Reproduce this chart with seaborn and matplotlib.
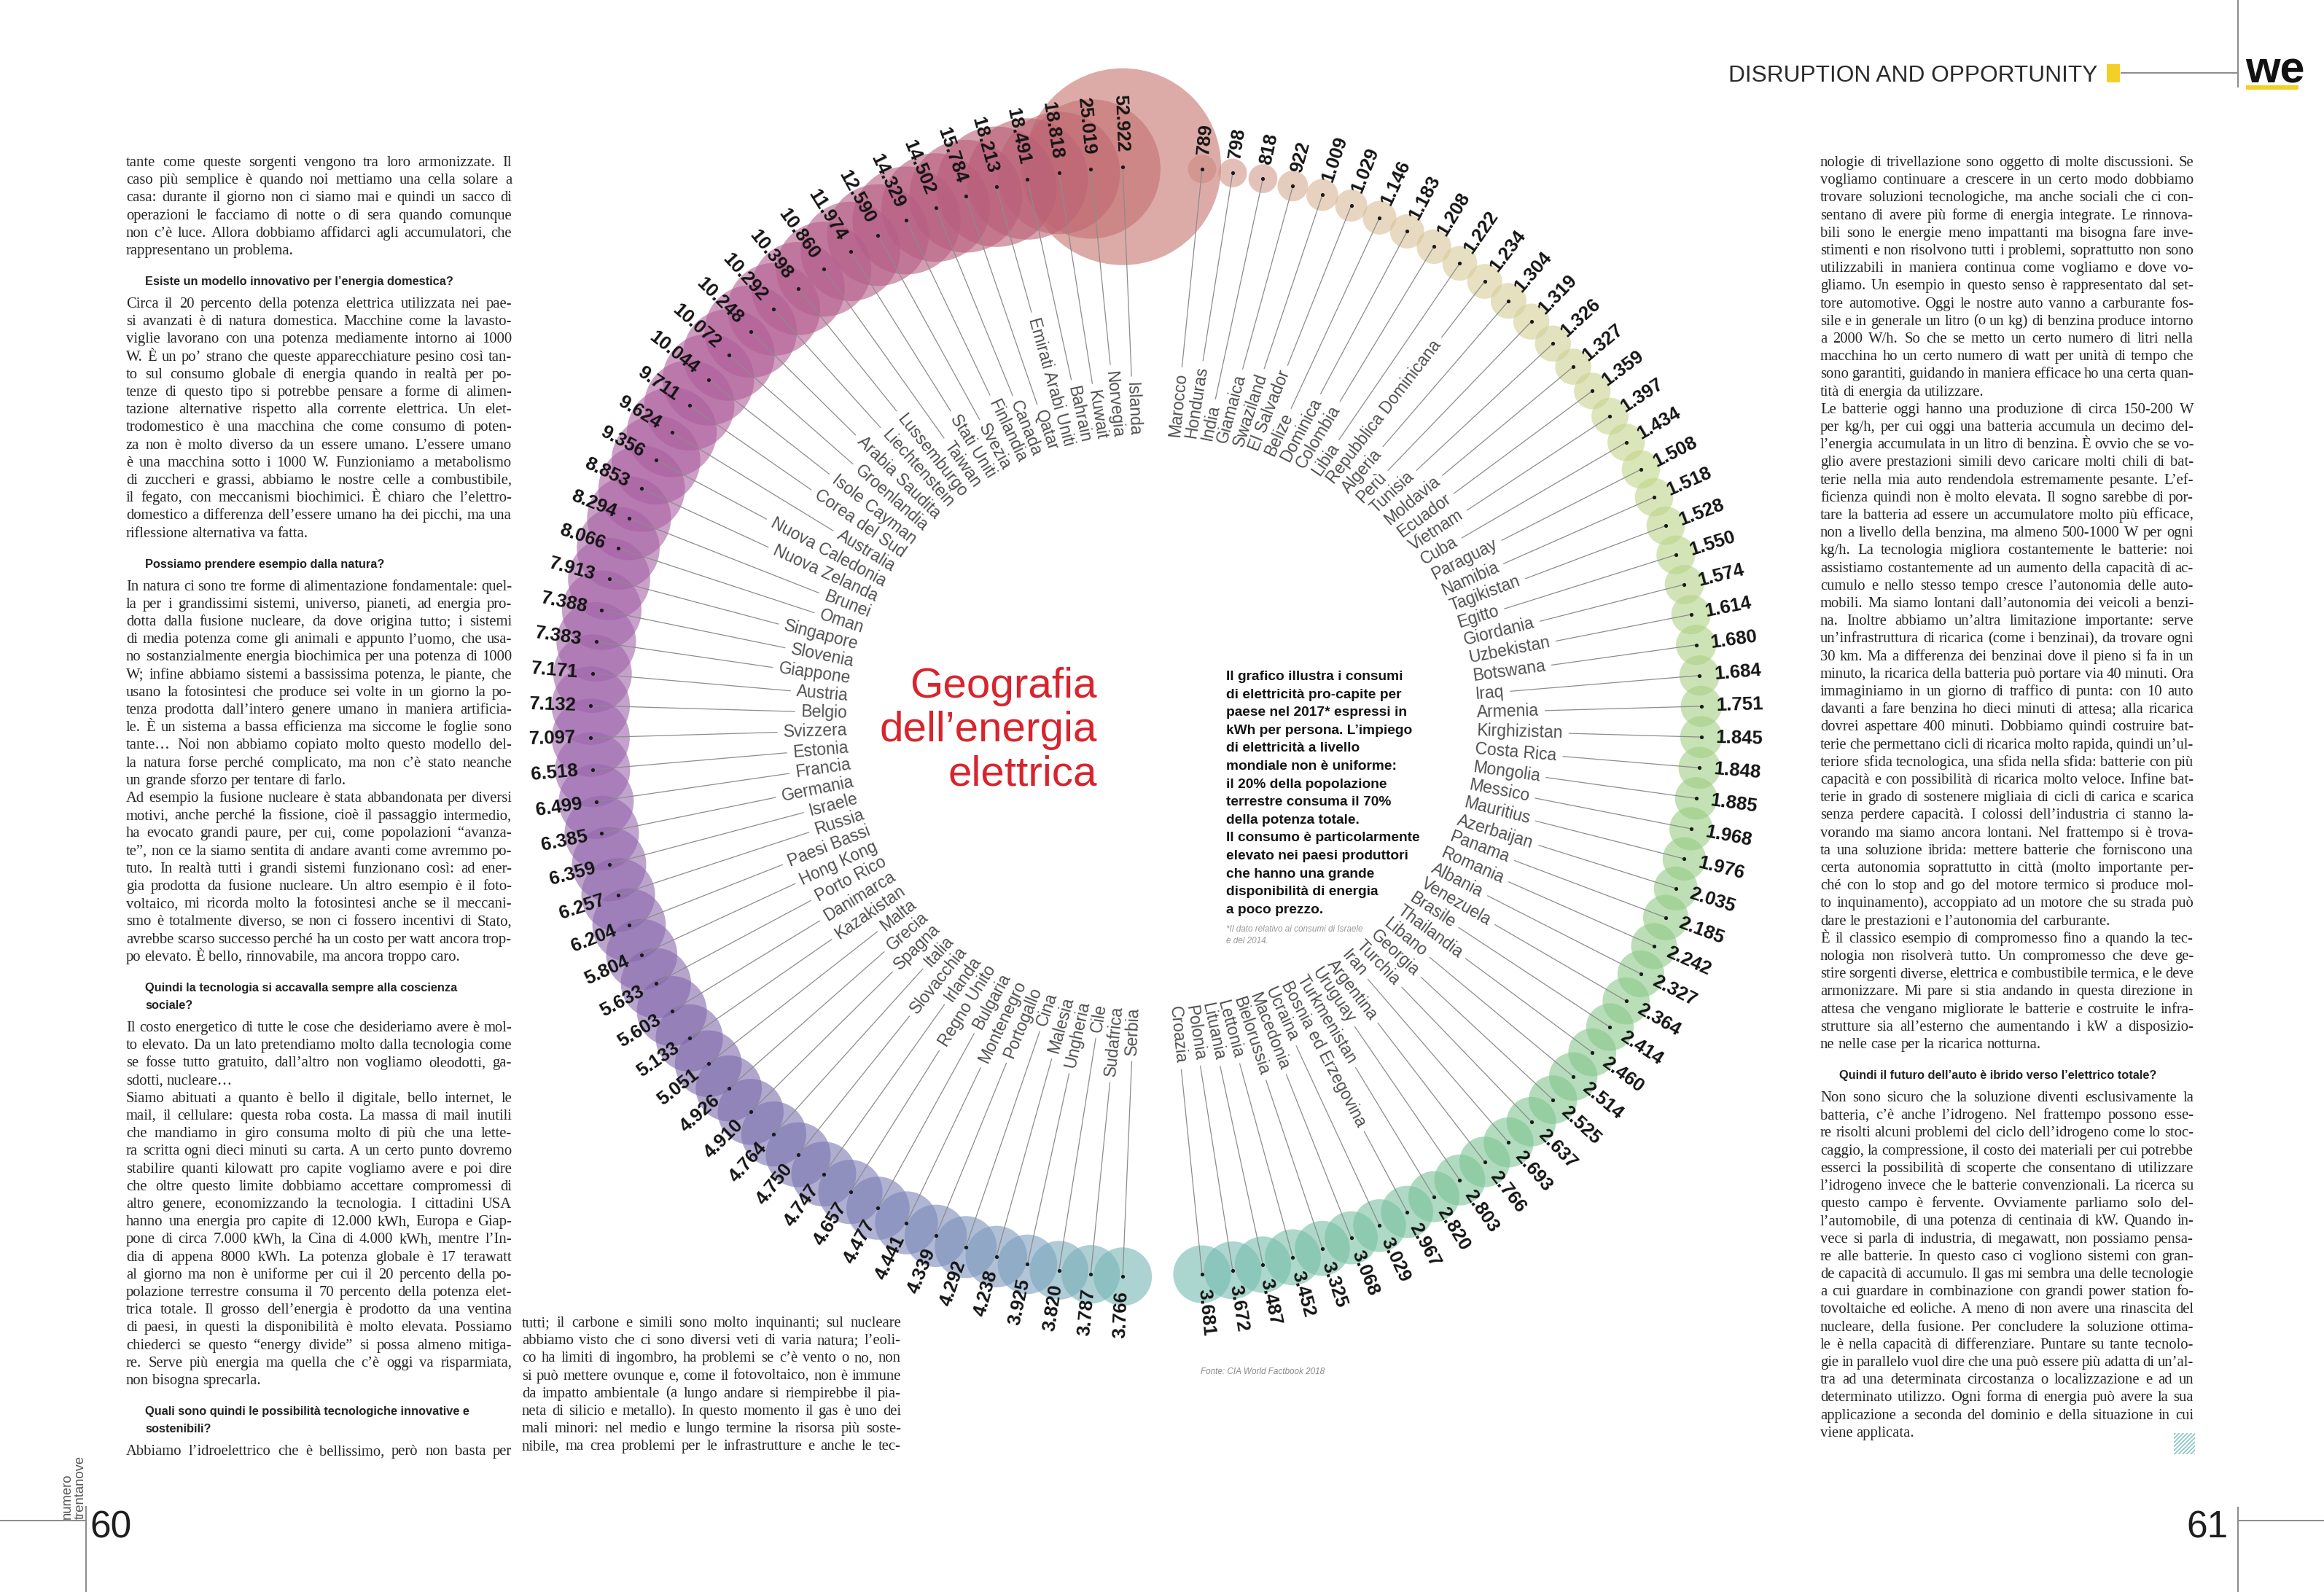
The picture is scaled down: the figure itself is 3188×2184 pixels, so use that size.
import numpy as np
import pandas as pd
import matplotlib
matplotlib.use("Agg")
import matplotlib.pyplot as plt
import seaborn as sns
from matplotlib import font_manager as fm
from matplotlib.font_manager import FontProperties
from matplotlib.colors import LinearSegmentedColormap, to_hex
from matplotlib.patches import Rectangle
from matplotlib.collections import LineCollection

# ---------------- data (kWh per person, 2017) ----------------
countries = [
    "Islanda", "Norvegia", "Kuwait", "Bahrain", "Emirati Arabi Uniti", "Qatar", "Canada",
    "Finlandia", "Svezia", "Stati Uniti", "Taiwan", "Lussemburgo", "Liechtenstein",
    "Arabia Saudita", "Groenlandia", "Isole Cayman", "Corea del Sud", "Australia",
    "Nuova Caledonia", "Nuova Zelanda", "Brunei", "Oman", "Singapore", "Slovenia",
    "Giappone", "Austria", "Belgio", "Svizzera", "Estonia", "Francia", "Germania",
    "Israele", "Russia", "Paesi Bassi", "Hong Kong", "Porto Rico", "Danimarca",
    "Kazakistan", "Malta", "Grecia", "Spagna", "Italia", "Slovacchia", "Irlanda",
    "Regno Unito", "Bulgaria", "Montenegro", "Portogallo", "Cina", "Malesia",
    "Ungheria", "Cile", "Sudafrica", "Serbia",
    "Croazia", "Polonia", "Lituania", "Lettonia", "Bielorussia", "Macedonia", "Ucraina",
    "Bosnia ed Erzegovina", "Turkmenistan", "Uruguay", "Argentina", "Iran", "Turchia",
    "Georgia", "Libano", "Thailandia", "Brasile", "Venezuela", "Albania", "Romania",
    "Panama", "Azerbaijan", "Mauritius", "Messico", "Mongolia", "Costa Rica",
    "Kirghizistan", "Armenia", "Iraq", "Botswana", "Uzbekistan", "Giordania", "Egitto",
    "Tagikistan", "Namibia", "Paraguay", "Cuba", "Vietnam", "Ecuador", "Moldavia",
    "Tunisia", "Perù", "Algeria", "Repubblica Dominicana", "Libia", "Colombia",
    "Dominica", "Belize", "El Salvador", "Swaziland", "Giamaica", "India", "Honduras",
    "Marocco",
]
values = [
    52922, 25019, 18818, 18491, 18213, 15784, 14502, 14329, 12590, 11974, 10860, 10398,
    10292, 10248, 10072, 10044, 9711, 9624, 9356, 8853, 8294, 8066, 7913, 7388, 7383,
    7171, 7132, 7097, 6518, 6499, 6385, 6359, 6257, 6204, 5804, 5633, 5603, 5133, 5051,
    4926, 4910, 4764, 4750, 4747, 4657, 4477, 4441, 4339, 4292, 4238, 3925, 3820, 3787,
    3766,
    3681, 3672, 3487, 3452, 3325, 3068, 3029, 2967, 2820, 2803, 2766, 2693, 2637, 2525,
    2514, 2460, 2414, 2364, 2327, 2242, 2185, 2035, 1976, 1968, 1885, 1848, 1845, 1751,
    1684, 1680, 1614, 1574, 1550, 1528, 1518, 1508, 1434, 1397, 1359, 1327, 1326, 1319,
    1304, 1234, 1222, 1208, 1183, 1146, 1029, 1009, 922, 818, 798, 789,
]

title_lines = ["Geografia", "dell’energia", "elettrica"]
description_lines = [
    "Il grafico illustra i consumi", "di elettricità pro-capite per",
    "paese nel 2017* espressi in", "kWh per persona. L’impiego",
    "di elettricità a livello", "mondiale non è uniforme:",
    "il 20% della popolazione", "terrestre consuma il 70%",
    "della potenza totale.", "Il consumo è particolarmente",
    "elevato nei paesi produttori", "che hanno una grande",
    "disponibilità di energia", "a poco prezzo.",
]
footnote_lines = ["*Il dato relativo ai consumi di Israele", "è del 2014."]
source_text = "Fonte: CIA World Factbook 2018"

left_column = [
    ("p", ["tante come queste sorgenti vengono tra loro armonizzate. Il",
           "caso più semplice è quando noi mettiamo una cella solare a",
           "casa: durante il giorno non ci siamo mai e quindi un sacco di",
           "operazioni le facciamo di notte o di sera quando comunque",
           "non c’è luce. Allora dobbiamo affidarci agli accumulatori, che",
           "rappresentano un problema."]),
    ("h", ["Esiste un modello innovativo per l’energia domestica?"]),
    ("p", ["Circa il 20 percento della potenza elettrica utilizzata nei pae-",
           "si avanzati è di natura domestica. Macchine come la lavasto-",
           "viglie lavorano con una potenza mediamente intorno ai 1000",
           "W. È un po’ strano che queste apparecchiature pesino così tan-",
           "to sul consumo globale di energia quando in realtà per po-",
           "tenze di questo tipo si potrebbe pensare a forme di alimen-",
           "tazione alternative rispetto alla corrente elettrica. Un elet-",
           "trodomestico è una macchina che come consumo di poten-",
           "za non è molto diverso da un essere umano. L’essere umano",
           "è una macchina sotto i 1000 W. Funzioniamo a metabolismo",
           "di zuccheri e grassi, abbiamo le nostre celle a combustibile,",
           "il fegato, con meccanismi biochimici. È chiaro che l’elettro-",
           "domestico a differenza dell’essere umano ha dei picchi, ma una",
           "riflessione alternativa va fatta."]),
    ("h", ["Possiamo prendere esempio dalla natura?"]),
    ("p", ["In natura ci sono tre forme di alimentazione fondamentale: quel-",
           "la per i grandissimi sistemi, universo, pianeti, ad energia pro-",
           "dotta dalla fusione nucleare, da dove origina tutto; i sistemi",
           "di media potenza come gli animali e appunto l’uomo, che usa-",
           "no sostanzialmente energia biochimica per una potenza di 1000",
           "W; infine abbiamo sistemi a bassissima potenza, le piante, che",
           "usano la fotosintesi che produce sei volte in un giorno la po-",
           "tenza prodotta dall’intero genere umano in maniera artificia-",
           "le. È un sistema a bassa efficienza ma siccome le foglie sono",
           "tante… Noi non abbiamo copiato molto questo modello del-",
           "la natura forse perché complicato, ma non c’è stato neanche",
           "un grande sforzo per tentare di farlo."]),
    ("p", ["Ad esempio la fusione nucleare è stata abbandonata per diversi",
           "motivi, anche perché la fissione, cioè il passaggio intermedio,",
           "ha evocato grandi paure, per cui, come popolazioni “avanza-",
           "te”, non ce la siamo sentita di andare avanti come avremmo po-",
           "tuto. In realtà tutti i grandi sistemi funzionano così: ad ener-",
           "gia prodotta da fusione nucleare. Un altro esempio è il foto-",
           "voltaico, mi ricorda molto la fotosintesi anche se il meccani-",
           "smo è totalmente diverso, se non ci fossero incentivi di Stato,",
           "avrebbe scarso successo perché ha un costo per watt ancora trop-",
           "po elevato. È bello, rinnovabile, ma ancora troppo caro."]),
    ("h", ["Quindi la tecnologia si accavalla sempre alla coscienza", "sociale?"]),
    ("p", ["Il costo energetico di tutte le cose che desideriamo avere è mol-",
           "to elevato. Da un lato pretendiamo molto dalla tecnologia come",
           "se fosse tutto gratuito, dall’altro non vogliamo oleodotti, ga-",
           "sdotti, nucleare…"]),
    ("p", ["Siamo abituati a quanto è bello il digitale, bello internet, le",
           "mail, il cellulare: questa roba costa. La massa di mail inutili",
           "che mandiamo in giro consuma molto di più che una lette-",
           "ra scritta ogni dieci minuti su carta. A un certo punto dovremo",
           "stabilire quanti kilowatt pro capite vogliamo avere e poi dire",
           "che oltre questo limite dobbiamo accettare compromessi di",
           "altro genere, economizzando la tecnologia. I cittadini USA",
           "hanno una energia pro capite di 12.000 kWh, Europa e Giap-",
           "pone di circa 7.000 kWh, la Cina di 4.000 kWh, mentre l’In-",
           "dia di appena 8000 kWh. La potenza globale è 17 terawatt",
           "al giorno ma non è uniforme per cui il 20 percento della po-",
           "polazione terrestre consuma il 70 percento della potenza elet-",
           "trica totale. Il grosso dell’energia è prodotto da una ventina",
           "di paesi, in questi la disponibilità è molto elevata. Possiamo",
           "chiederci se questo “energy divide” si possa almeno mitiga-",
           "re. Serve più energia ma quella che c’è oggi va risparmiata,",
           "non bisogna sprecarla."]),
    ("h", ["Quali sono quindi le possibilità tecnologiche innovative e", "sostenibili?"]),
    ("c", ["Abbiamo l’idroelettrico che è bellissimo, però non basta per"]),
]

middle_column = [
    ("c", ["tutti; il carbone e simili sono molto inquinanti; sul nucleare",
           "abbiamo visto che ci sono diversi veti di varia natura; l’eoli-",
           "co ha limiti di ingombro, ha problemi se c’è vento o no, non",
           "si può mettere ovunque e, come il fotovoltaico, non è immune",
           "da impatto ambientale (a lungo andare si riempirebbe il pia-",
           "neta di silicio e metallo). In questo momento il gas è uno dei",
           "mali minori: nel medio e lungo termine la risorsa più soste-",
           "nibile, ma crea problemi per le infrastrutture e anche le tec-"]),
]

right_column = [
    ("p", ["nologie di trivellazione sono oggetto di molte discussioni. Se",
           "vogliamo continuare a crescere in un certo modo dobbiamo",
           "trovare soluzioni tecnologiche, ma anche sociali che ci con-",
           "sentano di avere più forme di energia integrate. Le rinnova-",
           "bili sono le energie meno impattanti ma bisogna fare inve-",
           "stimenti e non risolvono tutti i problemi, soprattutto non sono",
           "utilizzabili in maniera continua come vogliamo e dove vo-",
           "gliamo. Un esempio in questo senso è rappresentato dal set-",
           "tore automotive. Oggi le nostre auto vanno a carburante fos-",
           "sile e in generale un litro (o un kg) di benzina produce intorno",
           "a 2000 W/h. So che se metto un certo numero di litri nella",
           "macchina ho un certo numero di watt per unità di tempo che",
           "sono garantiti, guidando in maniera efficace ho una certa quan-",
           "tità di energia da utilizzare."]),
    ("p", ["Le batterie oggi hanno una produzione di circa 150-200 W",
           "per kg/h, per cui oggi una batteria accumula un decimo del-",
           "l’energia accumulata in un litro di benzina. È ovvio che se vo-",
           "glio avere prestazioni simili devo caricare molti chili di bat-",
           "terie nella mia auto rendendola estremamente pesante. L’ef-",
           "ficienza quindi non è molto elevata. Il sogno sarebbe di por-",
           "tare la batteria ad essere un accumulatore molto più efficace,",
           "non a livello della benzina, ma almeno 500-1000 W per ogni",
           "kg/h. La tecnologia migliora costantemente le batterie: noi",
           "assistiamo costantemente ad un aumento della capacità di ac-",
           "cumulo e nello stesso tempo cresce l’autonomia delle auto-",
           "mobili. Ma siamo lontani dall’autonomia dei veicoli a benzi-",
           "na. Inoltre abbiamo un’altra limitazione importante: serve",
           "un’infrastruttura di ricarica (come i benzinai), da trovare ogni",
           "30 km. Ma a differenza dei benzinai dove il pieno si fa in un",
           "minuto, la ricarica della batteria può portare via 40 minuti. Ora",
           "immaginiamo in un giorno di traffico di punta: con 10 auto",
           "davanti a fare benzina ho dieci minuti di attesa; alla ricarica",
           "dovrei aspettare 400 minuti. Dobbiamo quindi costruire bat-",
           "terie che permettano cicli di ricarica molto rapida, quindi un’ul-",
           "teriore sfida tecnologica, una sfida nella sfida: batterie con più",
           "capacità e con possibilità di ricarica molto veloce. Infine bat-",
           "terie in grado di sostenere migliaia di cicli di carica e scarica",
           "senza perdere capacità. I colossi dell’industria ci stanno la-",
           "vorando ma siamo ancora lontani. Nel frattempo si è trova-",
           "ta una soluzione ibrida: mettere batterie che forniscono una",
           "certa autonomia soprattutto in città (molto importante per-",
           "ché con lo stop and go del motore termico si produce mol-",
           "to inquinamento), accoppiato ad un motore che su strada può",
           "dare le prestazioni e l’autonomia del carburante."]),
    ("p", ["È il classico esempio di compromesso fino a quando la tec-",
           "nologia non risolverà tutto. Un compromesso che deve ge-",
           "stire sorgenti diverse, elettrica e combustibile termica, e le deve",
           "armonizzare. Mi pare si stia andando in questa direzione in",
           "attesa che vengano migliorate le batterie e costruite le infra-",
           "strutture sia all’esterno che aumentando i kW a disposizio-",
           "ne nelle case per la ricarica notturna."]),
    ("h", ["Quindi il futuro dell’auto è ibrido verso l’elettrico totale?"]),
    ("p", ["Non sono sicuro che la soluzione diventi esclusivamente la",
           "batteria, c’è anche l’idrogeno. Nel frattempo possono esse-",
           "re risolti alcuni problemi del ciclo dell’idrogeno come lo stoc-",
           "caggio, la compressione, il costo dei materiali per cui potrebbe",
           "esserci la possibilità di scoperte che consentano di utilizzare",
           "l’idrogeno invece che le batterie convenzionali. La ricerca su",
           "questo campo è fervente. Ovviamente parliamo solo del-",
           "l’automobile, di una potenza di centinaia di kW. Quando in-",
           "vece si parla di industria, di megawatt, non possiamo pensa-",
           "re alle batterie. In questo caso ci vogliono sistemi con gran-",
           "de capacità di accumulo. Il gas mi sembra una delle tecnologie",
           "a cui guardare in combinazione con grandi power station fo-",
           "tovoltaiche ed eoliche. A meno di non avere una rinascita del",
           "nucleare, della fusione. Per concludere la soluzione ottima-",
           "le è nella capacità di differenziare. Puntare su tante tecnolo-",
           "gie in parallelo vuol dire che una può essere più adatta di un’al-",
           "tra ad una determinata circostanza o localizzazione e ad un",
           "determinato utilizzo. Ogni forma di energia può avere la sua",
           "applicazione a seconda del dominio e della situazione in cui",
           "viene applicata."]),
]

# ---------------- setup ----------------
sns.set_theme(style="white")
plt.rcParams["font.family"] = ["Liberation Sans", "DejaVu Sans"]
installed = {f.name for f in fm.fontManager.ttflist}
NARROW = "Liberation Sans Narrow" if "Liberation Sans Narrow" in installed else "Liberation Sans"
SERIF = "Liberation Serif"

W, H, DPI = 3188, 2184, 100
fig = plt.figure(figsize=(W / DPI, H / DPI), dpi=DPI, facecolor="white")
ax = fig.add_axes([0, 0, 1, 1])
ax.set_facecolor("white")
renderer = fig.canvas.get_renderer()


def text_width(s, family, size, weight="normal", style="normal"):
    fp = FontProperties(family=family, size=size, weight=weight, style=style)
    w, h, d = renderer.get_text_width_height_descent(s, fp, ismath=False)
    return w


# ---------------- radial bubble chart ----------------
cx, cy, R_DOT = 1572.0, 990.0, 762.0
n_half = len(countries) // 2
theta = np.concatenate([np.linspace(2.4, 177.6, n_half),
                        np.linspace(185.8, 354.2, len(countries) - n_half)])
phi = np.deg2rad(90.0 + theta)

df = pd.DataFrame({"country": countries, "value": values})
df["x"] = cx + R_DOT * np.cos(phi)
df["y"] = cy - R_DOT * np.sin(phi)
df["area"] = df["value"] ** 0.92   # bubble area scale (slightly compressed)

anchors = [(0.00, "#c5736e"), (0.04, "#b95d78"), (0.14, "#b05e9b"), (0.26, "#9b66ae"),
           (0.36, "#7c69ab"), (0.43, "#7a83b6"), (0.47, "#7da2bf"), (0.50, "#74bbb3"),
           (0.60, "#7cc493"), (0.72, "#98cc82"), (0.83, "#c0d68a"), (0.91, "#d8cd99"),
           (0.96, "#d9b898"), (1.00, "#cc8a82")]
cmap = LinearSegmentedColormap.from_list("ring", anchors)
palette = {c: to_hex(cmap(i / (len(countries) - 1))) for i, c in enumerate(countries)}

amax = df["area"].max()
R_MAX = 135.0
smax = (2 * R_MAX * 72.0 / DPI) ** 2
sns.scatterplot(data=df, x="x", y="y", hue="country", palette=palette,
                size="area", sizes=(0, smax), size_norm=(0, amax),
                alpha=0.6, linewidth=0, legend=False, ax=ax, zorder=2)
sns.scatterplot(data=df, x="x", y="y", color="#1b1b1b", s=14, linewidth=0,
                legend=False, ax=ax, zorder=5)

NAME_SIZE = 16.5
VAL_SIZE = 18.5
segs = []
for i, (c, v) in enumerate(zip(countries, values)):
    p = phi[i]
    cosp, sinp = np.cos(p), np.sin(p)
    left = theta[i] < 180
    r_name = 392 + (18 if cosp < 0 else 62) * cosp ** 2
    wname = text_width(c, "Liberation Sans", NAME_SIZE)
    rot = np.rad2deg(p) - 180 if left else np.rad2deg(p) - 360
    ha = "right" if left else "left"
    ax.text(cx + r_name * cosp, cy - r_name * sinp, c, rotation=rot, rotation_mode="anchor",
            ha=ha, va="center", fontsize=NAME_SIZE, color="#505050",
            family="Liberation Sans", zorder=6)
    r_val = R_DOT + 20
    ax.text(cx + r_val * cosp, cy - r_val * sinp, f"{v:,}".replace(",", "."),
            rotation=rot, rotation_mode="anchor", ha=ha, va="center",
            fontsize=VAL_SIZE, fontweight="bold", color="#141414",
            family="Liberation Sans", zorder=7)
    r_end = r_name + wname + 8
    segs.append([(cx + R_DOT * cosp, cy - R_DOT * sinp),
                 (cx + r_end * cosp, cy - r_end * sinp)])
ax.add_collection(LineCollection(segs, colors="#8c8c8c", linewidths=0.9, zorder=4))

# title
for k, line in enumerate(title_lines):
    ax.text(1505, 957 + k * 60, line, ha="right", va="baseline", fontsize=42,
            family="Liberation Sans", color="#d8242d")

# description
for k, line in enumerate(description_lines):
    ax.text(1682, 933 + k * 24.6, line, ha="left", va="baseline", fontsize=13.8,
            family=NARROW, fontweight="bold", color="#141414")
for k, line in enumerate(footnote_lines):
    ax.text(1682, 1278 + k * 16, line, ha="left", va="baseline", fontsize=8.5,
            family=NARROW, style="italic", color="#9a9a9a")
ax.text(1647, 1885, source_text, ha="left", va="baseline", fontsize=8.5,
        family=NARROW, style="italic", color="#8a8a8a")

# ---------------- article text ----------------
BODY_SIZE = 14.9
HEAD_SIZE = 11.8
LS = 24.2


def draw_column(blocks, x0, width, y0):
    y = y0
    first = True
    space = text_width("n n", SERIF, BODY_SIZE) - text_width("nn", SERIF, BODY_SIZE)
    for kind, lines in blocks:
        if kind == "h":
            if not first:
                y += 17.8
            for j, line in enumerate(lines):
                if j > 0:
                    y += LS
                ax.text(x0 + 26, y, line, ha="left", va="baseline", fontsize=HEAD_SIZE,
                        family="Liberation Sans", fontweight="bold", color="#222222")
            y += LS + 6.8
            first = False
            continue
        for j, line in enumerate(lines):
            justify = not (kind == "p" and j == len(lines) - 1)
            words = line.split()
            ws = [text_width(w_, SERIF, BODY_SIZE) for w_ in words]
            if justify and len(words) > 1:
                gap = max((width - sum(ws)) / (len(words) - 1), 0.5 * space)
            else:
                gap = space
            xx = x0
            for w_, ww in zip(words, ws):
                ax.text(xx, y, w_, ha="left", va="baseline", fontsize=BODY_SIZE,
                        family=SERIF, color="#262626")
                xx += ww + gap
            y += LS
        first = False
    return y


draw_column(left_column, 173, 529, 228)
draw_column(middle_column, 716, 520, 1820)
draw_column(right_column, 2497, 512, 228)

# ---------------- page furniture ----------------
line_kw = dict(color="#8a8a8a", lw=1.4, solid_capstyle="butt")
ax.plot([0, 118], [2086, 2086], **line_kw)
ax.plot([118, 118], [2066, 2184], **line_kw)
ax.plot([3070, 3070], [2067, 2184], **line_kw)
ax.plot([3070, 3188], [2086, 2086], **line_kw)
ax.plot([3070, 3070], [0, 120], **line_kw)
ax.plot([2909, 3070], [100, 100], **line_kw)
ax.add_patch(Rectangle((2890, 88), 18, 25, color="#f3d027", lw=0))

ax.text(2877, 112, "DISRUPTION AND OPPORTUNITY", ha="right", va="baseline",
        fontsize=22.8, family=NARROW, color="#2a2a2a")
ax.text(3080, 113, "we", ha="left", va="baseline", fontsize=44, fontweight="bold",
        family="Liberation Sans", color="#121212")
ax.add_patch(Rectangle((3081, 117), 72, 6, color="#f3d027", lw=0))

ax.text(123, 2110, "60", ha="left", va="baseline", fontsize=37,
        family="Liberation Sans", color="#1e1e1e")
ax.text(3057, 2110, "61", ha="right", va="baseline", fontsize=37,
        family="Liberation Sans", color="#1e1e1e")
ax.text(97, 2084, "numero", rotation=90, rotation_mode="anchor", ha="left",
        va="baseline", fontsize=13.3, color="#555555", family="Liberation Sans")
ax.text(115, 2084, "trentanove", rotation=90, rotation_mode="anchor", ha="left",
        va="baseline", fontsize=13.3, color="#555555", family="Liberation Sans")

plt.rcParams["hatch.color"] = "#86c6c2"
plt.rcParams["hatch.linewidth"] = 1.2
ax.add_patch(Rectangle((2982, 1966), 29, 29, facecolor="white", edgecolor="#86c6c2",
                       hatch="//////", lw=0))

ax.set_xlim(0, W)
ax.set_ylim(H, 0)
ax.set_axis_off()
fig.savefig("out.png", dpi=DPI, facecolor="white")
